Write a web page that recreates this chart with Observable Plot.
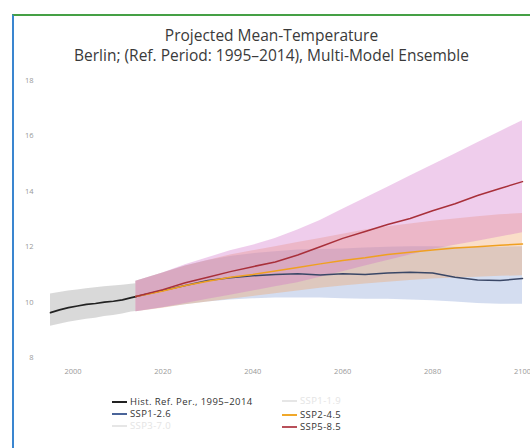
<!DOCTYPE html>
<html><head><meta charset="utf-8">
<script src="https://cdn.jsdelivr.net/npm/d3@7"></script>
<script src="https://cdn.jsdelivr.net/npm/@observablehq/plot@0.6"></script>
<style>
html,body{margin:0;padding:0;background:#fff;width:530px;height:448px;overflow:hidden;font-family:"Open Sans","DejaVu Sans",sans-serif;}
#frame{position:absolute;left:12px;top:14px;width:530px;height:440px;border-left:2px solid #3a86d0;border-top:2px solid #45a045;}
#title{position:absolute;left:0;top:25px;width:543px;text-align:center;font-size:15.5px;line-height:20px;color:#3a3a3a;}
#chart{position:absolute;left:0;top:0;}
.leg{position:absolute;font-size:9.5px;line-height:11px;height:11px;color:#333;white-space:nowrap;letter-spacing:0.4px;}
.leg span.sw{display:inline-block;width:15px;height:0;border-top:2px solid;vertical-align:middle;margin-right:3px;}
</style></head>
<body>
<div id="frame"></div>
<div id="chart"></div>
<div id="title">Projected Mean-Temperature<br>Berlin; (Ref. Period: 1995–2014), Multi-Model Ensemble</div>
<div id="legend"></div>
<script>
// ---- data ----
const histYears = [1995,1997,1999,2001,2003,2005,2007,2009,2011,2013,2014];
const histMean  = [9.62,9.72,9.8,9.86,9.92,9.95,10.0,10.03,10.08,10.16,10.2];
const histLow   = [9.13,9.2,9.27,9.33,9.38,9.42,9.48,9.52,9.57,9.64,9.66];
const histHigh  = [10.29,10.35,10.4,10.44,10.48,10.52,10.55,10.58,10.61,10.64,10.66];

const projYears = [2014,2020,2025,2030,2035,2040,2045,2050,2055,2060,2065,2070,2075,2080,2085,2090,2095,2100];
const ssp126Mean = [10.2,10.42,10.6,10.78,10.88,10.95,11.0,11.02,10.98,11.02,11.0,11.05,11.08,11.05,10.9,10.8,10.78,10.85];
const ssp126Low  = [9.65,9.8,9.9,10.0,10.08,10.12,10.15,10.15,10.15,10.12,10.1,10.1,10.08,10.05,10.0,9.95,9.92,9.92];
const ssp126High = [10.75,11.05,11.3,11.5,11.65,11.75,11.82,11.88,11.9,11.92,11.95,11.98,12.0,12.0,11.98,11.97,11.98,12.0];
const ssp245Mean = [10.2,10.4,10.6,10.75,10.9,11.0,11.12,11.25,11.38,11.5,11.6,11.72,11.8,11.88,11.95,12.0,12.05,12.1];
const ssp245Low  = [9.65,9.78,9.9,10.0,10.1,10.2,10.3,10.4,10.5,10.58,10.65,10.72,10.78,10.83,10.87,10.9,10.93,10.95];
const ssp245High = [10.75,11.05,11.3,11.5,11.7,11.85,12.0,12.15,12.3,12.45,12.6,12.72,12.82,12.92,13.0,13.08,13.15,13.2];
const ssp585Mean = [10.2,10.45,10.7,10.9,11.1,11.28,11.45,11.7,12.0,12.3,12.55,12.8,13.02,13.3,13.55,13.85,14.1,14.35];
const ssp585Low  = [9.65,9.8,9.95,10.1,10.25,10.4,10.55,10.7,10.9,11.1,11.3,11.5,11.7,11.9,12.05,12.2,12.35,12.5];
const ssp585High = [10.75,11.05,11.35,11.6,11.85,12.05,12.3,12.6,12.95,13.35,13.75,14.15,14.55,14.95,15.35,15.75,16.15,16.55];

const xTicks = [2000,2020,2040,2060,2080,2100];
const yTicks = [8,10,12,14,16,18];

const legendItems = [
  {label:"Hist. Ref. Per., 1995–2014", color:"#222222", faint:false, col:0, row:0},
  {label:"SSP1-2.6", color:"#4a6499", faint:false, col:0, row:1},
  {label:"SSP3-7.0", color:"#e6e6e6", faint:true, col:0, row:2},
  {label:"SSP1-1.9", color:"#e6e6e6", faint:true, col:1, row:0},
  {label:"SSP2-4.5", color:"#f0a82a", faint:false, col:1, row:1},
  {label:"SSP5-8.5", color:"#b8505a", faint:false, col:1, row:2}
];

// ---- build tables ----
const hist = histYears.map((y,i)=>({year:y, mean:histMean[i], lo:histLow[i], hi:histHigh[i]}));
const mk = (m,l,h)=>projYears.map((y,i)=>({year:y, mean:m[i], lo:l[i], hi:h[i]}));
const s126 = mk(ssp126Mean,ssp126Low,ssp126High);
const s245 = mk(ssp245Mean,ssp245Low,ssp245High);
const s585 = mk(ssp585Mean,ssp585Low,ssp585High);

const chart = Plot.plot({
  width: 530, height: 390,
  marginLeft: 50, marginRight: 8, marginTop: 80, marginBottom: 33,
  style: {fontFamily: '"Open Sans","DejaVu Sans",sans-serif', fontSize: "7.5px", color: "#999", background: "transparent"},
  x: {domain: [1995, 2100], ticks: xTicks, tickFormat: d => String(d), tickSize: 0, tickPadding: 11, label: null},
  y: {domain: [8, 18], ticks: yTicks, tickSize: 0, tickPadding: 17, label: null},
  marks: [
    Plot.areaY(hist, {x:"year", y1:"lo", y2:"hi", fill:"#b4b4b4", fillOpacity:0.5}),
    Plot.areaY(s126, {x:"year", y1:"lo", y2:"hi", fill:"#8fa5d8", fillOpacity:0.38}),
    Plot.areaY(s245, {x:"year", y1:"lo", y2:"hi", fill:"#f0a060", fillOpacity:0.35}),
    Plot.areaY(s585, {x:"year", y1:"lo", y2:"hi", fill:"#d070c8", fillOpacity:0.35}),
    Plot.lineY(hist, {x:"year", y:"mean", stroke:"#222", strokeWidth:1.7}),
    Plot.lineY(s126, {x:"year", y:"mean", stroke:"#3a4766", strokeWidth:1.5}),
    Plot.lineY(s245, {x:"year", y:"mean", stroke:"#f0a020", strokeWidth:1.5}),
    Plot.lineY(s585, {x:"year", y:"mean", stroke:"#a8303a", strokeWidth:1.5})
  ]
});
document.getElementById("chart").appendChild(chart);

// ---- legend ----
const leg = document.getElementById("legend");
const colX = [112, 282];
const rowY = [[396, 408, 420], [395, 409, 421]];
legendItems.forEach(it => {
  const d = document.createElement("div");
  d.className = "leg";
  d.style.left = colX[it.col] + "px";
  d.style.top = rowY[it.col][it.row] + "px";
  if (it.faint) d.style.color = "#e4e4e4";
  const sw = document.createElement("span");
  sw.className = "sw";
  sw.style.borderTopColor = it.color;
  d.appendChild(sw);
  d.appendChild(document.createTextNode(it.label));
  leg.appendChild(d);
});
</script>
</body></html>
